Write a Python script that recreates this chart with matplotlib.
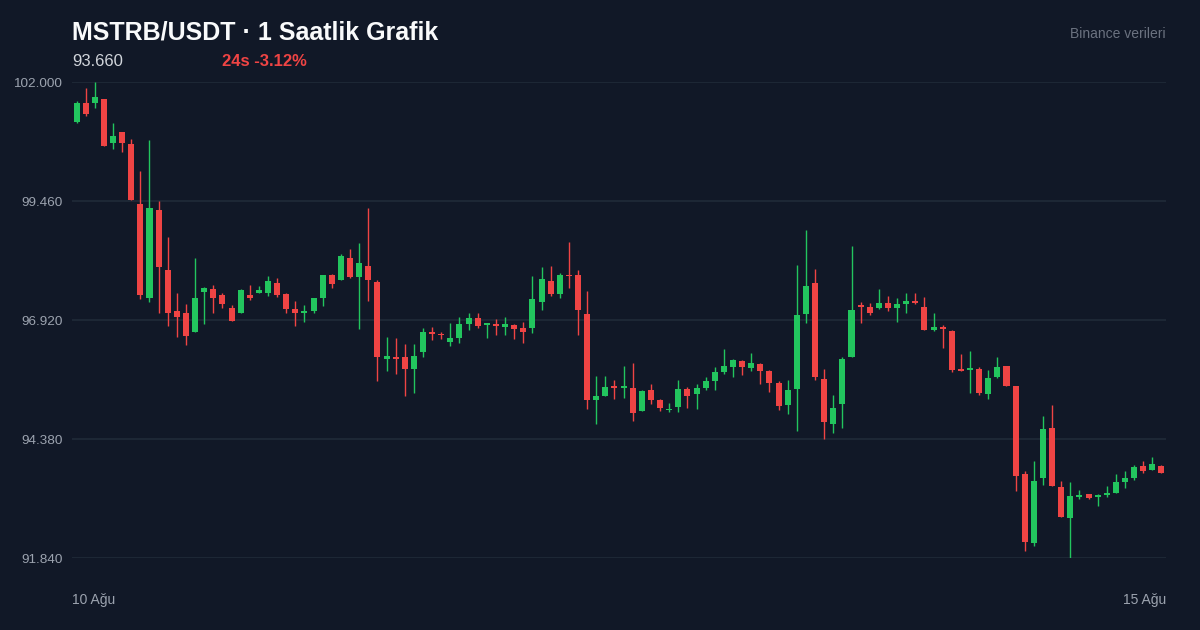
import numpy as np
import matplotlib
matplotlib.use("Agg")
import matplotlib.pyplot as plt
from matplotlib.patches import Rectangle

plt.rcParams['font.family'] = ['Liberation Sans', 'DejaVu Sans']

# 1 saatlik mumlar (10 Ağu -> 15 Ağu)
opens = [101.15, 101.55, 101.56, 101.63, 100.69, 100.93, 100.68, 99.40, 97.39, 99.27,
         97.99, 97.11, 97.08, 96.66, 97.52, 97.58, 97.45, 97.18, 97.08, 97.45,
         97.50, 97.49, 97.72, 97.47, 97.15, 97.06, 97.11, 97.38, 97.89, 97.77,
         98.24, 97.84, 98.07, 97.74, 96.09, 96.12, 96.12, 95.88, 96.24, 96.66,
         96.62, 96.45, 96.54, 96.83, 96.97, 96.81, 96.83, 96.76, 96.81, 96.74,
         96.75, 97.30, 97.75, 97.48, 97.89, 97.87, 97.05, 95.21, 95.29, 95.52,
         95.47, 95.46, 94.98, 95.42, 95.21, 94.99, 95.07, 95.45, 95.33, 95.47,
         95.62, 95.80, 95.92, 96.05, 95.90, 95.98, 95.83, 95.57, 95.10, 95.44,
         97.05, 97.71, 95.67, 94.70, 95.12, 96.12, 97.24, 97.19, 97.18, 97.28,
         97.18, 97.26, 97.33, 97.19, 96.71, 96.77, 96.69, 95.86, 95.86, 95.87,
         95.33, 95.71, 95.93, 95.52, 93.63, 92.15, 93.55, 94.61, 93.36, 92.69,
         93.14, 93.21, 93.15, 93.18, 93.23, 93.46, 93.55, 93.80, 93.72, 93.80]
highs = [101.59, 101.87, 102.00, 101.63, 101.12, 100.93, 100.78, 100.11, 100.76, 99.47,
         98.70, 97.49, 97.26, 98.24, 97.62, 97.67, 97.49, 97.24, 97.58, 97.67,
         97.65, 97.85, 97.82, 97.50, 97.33, 97.23, 97.38, 97.87, 97.90, 98.32,
         98.44, 98.56, 99.30, 97.77, 96.55, 96.53, 96.41, 96.41, 96.74, 96.78,
         96.67, 96.86, 96.99, 97.06, 97.06, 96.86, 96.94, 96.99, 96.84, 96.88,
         97.86, 98.06, 98.08, 97.92, 98.58, 97.99, 97.54, 95.72, 95.72, 95.65,
         95.94, 96.00, 95.43, 95.55, 95.23, 95.15, 95.64, 95.50, 95.55, 95.71,
         95.92, 96.31, 96.09, 96.07, 96.21, 96.00, 95.85, 95.62, 95.65, 98.10,
         98.84, 98.00, 95.87, 95.32, 96.12, 98.50, 97.31, 97.29, 97.58, 97.43,
         97.38, 97.49, 97.50, 97.42, 97.08, 96.82, 96.71, 96.20, 96.25, 95.91,
         95.85, 96.13, 95.93, 95.52, 93.70, 93.91, 94.87, 95.11, 93.48, 93.46,
         93.29, 93.21, 93.21, 93.38, 93.63, 93.70, 93.83, 93.90, 94.00, 93.82]
lows = [101.13, 101.27, 101.45, 100.63, 100.56, 100.50, 99.49, 97.36, 97.30, 97.08,
        96.80, 96.56, 96.39, 96.66, 96.83, 97.06, 97.17, 96.90, 97.06, 97.35,
        97.50, 97.44, 97.42, 97.06, 96.80, 96.88, 97.06, 97.22, 97.61, 97.77,
        97.81, 96.73, 97.33, 95.62, 95.83, 95.77, 95.30, 95.37, 96.14, 96.50,
        96.51, 96.36, 96.42, 96.71, 96.74, 96.54, 96.61, 96.61, 96.52, 96.42,
        96.65, 97.14, 97.43, 97.40, 97.60, 96.60, 95.03, 94.71, 95.29, 95.23,
        95.25, 94.76, 94.98, 95.13, 94.98, 94.95, 94.96, 95.04, 95.01, 95.43,
        95.43, 95.77, 95.70, 95.75, 95.84, 95.55, 95.38, 95.00, 94.91, 94.56,
        96.85, 95.63, 94.39, 94.50, 94.62, 96.12, 96.86, 97.03, 97.16, 97.11,
        96.88, 97.08, 97.26, 96.71, 96.69, 96.33, 95.82, 95.83, 95.36, 95.32,
        95.23, 95.69, 95.51, 93.26, 92.00, 92.10, 93.39, 93.38, 92.72, 91.84,
        93.11, 93.09, 92.96, 93.15, 93.22, 93.33, 93.51, 93.65, 93.72, 93.65]
closes = [101.56, 101.32, 101.68, 100.63, 100.85, 100.70, 99.49, 97.45, 99.32, 98.06,
          97.08, 96.99, 96.58, 97.40, 97.60, 97.39, 97.27, 96.90, 97.56, 97.40,
          97.55, 97.75, 97.45, 97.15, 97.06, 97.11, 97.38, 97.87, 97.68, 98.29,
          97.84, 98.14, 97.77, 96.12, 96.15, 96.08, 95.88, 96.15, 96.66, 96.62,
          96.59, 96.54, 96.83, 96.97, 96.79, 96.84, 96.79, 96.83, 96.73, 96.66,
          97.36, 97.79, 97.47, 97.89, 97.85, 97.14, 95.22, 95.29, 95.48, 95.46,
          95.50, 94.93, 95.40, 95.21, 95.04, 95.03, 95.44, 95.30, 95.47, 95.61,
          95.80, 95.93, 96.07, 95.92, 96.00, 95.83, 95.58, 95.09, 95.43, 97.03,
          97.64, 95.70, 94.75, 95.04, 96.08, 97.13, 97.20, 97.08, 97.28, 97.18,
          97.26, 97.33, 97.29, 96.71, 96.78, 96.72, 95.85, 95.83, 95.89, 95.36,
          95.68, 95.92, 95.51, 93.58, 92.19, 93.49, 94.59, 93.38, 92.72, 93.17,
          93.18, 93.13, 93.19, 93.23, 93.46, 93.54, 93.79, 93.69, 93.85, 93.66]

x_labels = ["10 Ağu", "15 Ağu"]
title = "MSTRB/USDT · 1 Saatlik Grafik"
last_price = "93.660"
change_text = "24s -3.12%"
source_text = "Binance verileri"

BG = '#111827'
GRID = '#1f2937'
UP = '#22c55e'
DOWN = '#ef4444'

fig = plt.figure(figsize=(12, 6.3), dpi=100, facecolor=BG)
ax = fig.add_axes([0.06, 1 - 558 / 630, 0.9117, (558 - 82) / 630])
ax.set_facecolor(BG)

# mumlar
n = len(opens)
body_w = 0.66
for i in range(n):
    o, h, l, c = opens[i], highs[i], lows[i], closes[i]
    col = UP if c >= o else DOWN
    ax.vlines(i, l, h, color=col, linewidth=1.0, zorder=2)
    bottom = min(o, c)
    height = max(abs(c - o), 0.04)
    ax.add_patch(Rectangle((i - body_w / 2, bottom), body_w, height,
                           facecolor=col, edgecolor='none', zorder=3))

# eksenler
ymin, ymax = min(lows), max(highs)
ax.set_ylim(ymin, ymax)
ax.set_xlim(-0.5, n - 0.5)
yticks = np.linspace(ymin, ymax, 5)
ax.set_yticks(yticks)
ax.set_yticklabels([f"{v:.3f}" for v in yticks])
ax.tick_params(axis='y', length=0, pad=7, labelsize=9.7, labelcolor='#9ca3af')
ax.set_xticks([])
for y in yticks:
    ax.axhline(y, color=GRID, linewidth=1.3, zorder=1)
for s in ax.spines.values():
    s.set_visible(False)

# x etiketleri
fig.text(72 / 1200, 1 - 604 / 630, x_labels[0], color='#9ca3af', fontsize=10,
         ha='left', va='baseline')
fig.text(1166 / 1200, 1 - 604 / 630, x_labels[1], color='#9ca3af', fontsize=10,
         ha='right', va='baseline')

# başlık kısmı
fig.text(72 / 1200, 1 - 39 / 630, title, color='#f9fafb', fontsize=18,
         fontweight='bold', ha='left', va='baseline')
fig.text(72 / 1200, 1 - 65.7 / 630, last_price, color='#d1d5db', fontsize=12,
         ha='left', va='baseline')
fig.text(222 / 1200, 1 - 65.7 / 630, change_text, color=DOWN, fontsize=12,
         fontweight='bold', ha='left', va='baseline')
fig.text(1166 / 1200, 1 - 38 / 630, source_text, color='#6b7280', fontsize=10,
         ha='right', va='baseline')

fig.savefig('out.png', dpi=100, facecolor=BG)
